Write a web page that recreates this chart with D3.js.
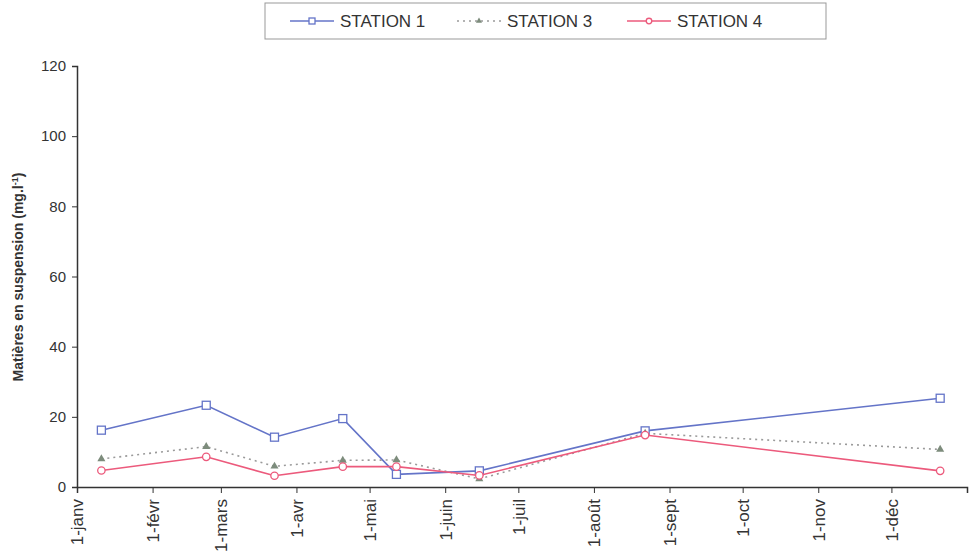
<!DOCTYPE html>
<html>
<head>
<meta charset="utf-8">
<script src="https://cdn.jsdelivr.net/npm/d3@7"></script>
<style>
  body { margin: 0; background: #fff; }
  text { font-family: "Liberation Sans", Arial, sans-serif; fill: #333; }
</style>
</head>
<body>
<script>
// Sampling dates and values
var dates = ["2001-01-11", "2001-02-23", "2001-03-23", "2001-04-20", "2001-05-12", "2001-06-15", "2001-08-22", "2001-12-21"];
var station1 = [16.2, 23.3, 14.2, 19.5, 3.6, 4.6, 16.0, 25.3];
var station3 = [8.0, 11.5, 5.9, 7.6, 7.7, 2.3, 15.3, 10.7];
var station4 = [4.7, 8.6, 3.2, 5.8, 5.8, 3.3, 14.8, 4.6];
var seriesNames = ["STATION 1", "STATION 3", "STATION 4"];
var monthLabels = ["1-janv", "1-févr", "1-mars", "1-avr", "1-mai", "1-juin", "1-juil", "1-août", "1-sept", "1-oct", "1-nov", "1-déc"];
var yTicks = [0, 20, 40, 60, 80, 100, 120];

var width = 973, height = 559;
var parse = d3.timeParse("%Y-%m-%d");

var svg = d3.select("body").append("svg")
    .attr("width", width)
    .attr("height", height);

// Scales
var x = d3.scaleTime()
    .domain([new Date(2001, 0, 1), new Date(2002, 0, 1)])
    .range([77, 967]);
var y = d3.scaleLinear().domain([0, 120]).range([487, 66]);

// Y axis
var yAxis = svg.append("g")
    .attr("transform", "translate(77,0)")
    .call(d3.axisLeft(y).tickValues(yTicks).tickSize(5).tickPadding(6));
yAxis.select(".domain").attr("stroke", "#333").attr("stroke-width", 1.5);
yAxis.selectAll(".tick line").attr("stroke", "#333");
yAxis.selectAll("text").style("font-size", "15px").attr("fill", "#3a3a3a");

// X axis: one tick per month plus the closing tick
var monthTicks = d3.timeMonth.range(new Date(2001, 0, 1), new Date(2002, 0, 2));
var xAxis = svg.append("g")
    .attr("transform", "translate(0,487)")
    .call(d3.axisBottom(x).tickValues(monthTicks).tickSize(6)
        .tickFormat(function (d) {
            return d.getFullYear() === 2001 ? monthLabels[d.getMonth()] : "";
        }));
xAxis.select(".domain").attr("stroke", "#333").attr("stroke-width", 1.5);
xAxis.selectAll(".tick line").attr("stroke", "#333");
xAxis.selectAll("text")
    .style("font-size", "17px")
    .attr("fill", "#3a3a3a")
    .attr("text-anchor", "end")
    .attr("transform", "rotate(-90)")
    .attr("x", -12)
    .attr("y", 0)
    .attr("dy", "0.35em");

// Y axis title
svg.append("text")
    .attr("transform", "translate(23,277) rotate(-90)")
    .attr("text-anchor", "middle")
    .style("font-size", "14px")
    .style("font-weight", "bold")
    .attr("fill", "#3a3a3a")
    .html("Matières en suspension (mg.l<tspan dy='-5' font-size='9px'>-1</tspan><tspan dy='5'>)</tspan>");

// Series
var series = [
    { name: seriesNames[0], values: station1, color: "#6474c8", dash: null, marker: "square" },
    { name: seriesNames[1], values: station3, color: "#9a9a9a", dash: "2,4", marker: "triangle" },
    { name: seriesNames[2], values: station4, color: "#ec5a7c", dash: null, marker: "circle" }
];

var line = d3.line()
    .x(function (d) { return x(d.date); })
    .y(function (d) { return y(d.value); });

function drawMarker(g, type, cx, cy, color, k) {
    k = k || 1;
    if (type === "square") {
        g.append("rect")
            .attr("x", cx - 4 * k).attr("y", cy - 4 * k)
            .attr("width", 8 * k).attr("height", 8 * k)
            .attr("fill", "#fff").attr("stroke", color).attr("stroke-width", 1.3);
    } else if (type === "circle") {
        g.append("circle")
            .attr("cx", cx).attr("cy", cy).attr("r", 3.7 * k)
            .attr("fill", "#fff").attr("stroke", color).attr("stroke-width", 1.3);
    } else {
        g.append("path")
            .attr("d", d3.symbol().type(d3.symbolTriangle).size(28 * k * k)())
            .attr("transform", "translate(" + cx + "," + cy + ")")
            .attr("fill", "#7d8c7c");
    }
}

series.forEach(function (s) {
    var pts = dates.map(function (d, i) { return { date: parse(d), value: s.values[i] }; });
    var g = svg.append("g");
    g.append("path")
        .datum(pts)
        .attr("d", line)
        .attr("fill", "none")
        .attr("stroke", s.color)
        .attr("stroke-width", 1.6)
        .attr("stroke-dasharray", s.dash);
    pts.forEach(function (p) {
        drawMarker(g, s.marker, x(p.date), y(p.value), s.color);
    });
});

// Legend
var legend = svg.append("g");
legend.append("rect")
    .attr("x", 265).attr("y", 3)
    .attr("width", 561).attr("height", 36)
    .attr("fill", "#fff").attr("stroke", "#999").attr("stroke-width", 1);

var legendTextX = [340, 507, 677];
series.forEach(function (s, i) {
    var tx = legendTextX[i], ly = 21;
    legend.append("line")
        .attr("x1", tx - 50).attr("x2", tx - 6)
        .attr("y1", ly).attr("y2", ly)
        .attr("stroke", s.color).attr("stroke-width", 1.3)
        .attr("stroke-dasharray", s.dash);
    drawMarker(legend, s.marker, tx - 28, ly, s.color, 0.75);
    legend.append("text")
        .attr("x", tx).attr("y", ly)
        .attr("dy", "0.35em")
        .style("font-size", "17px")
        .attr("fill", "#2a2a2a")
        .text(s.name);
});
</script>
</body>
</html>
